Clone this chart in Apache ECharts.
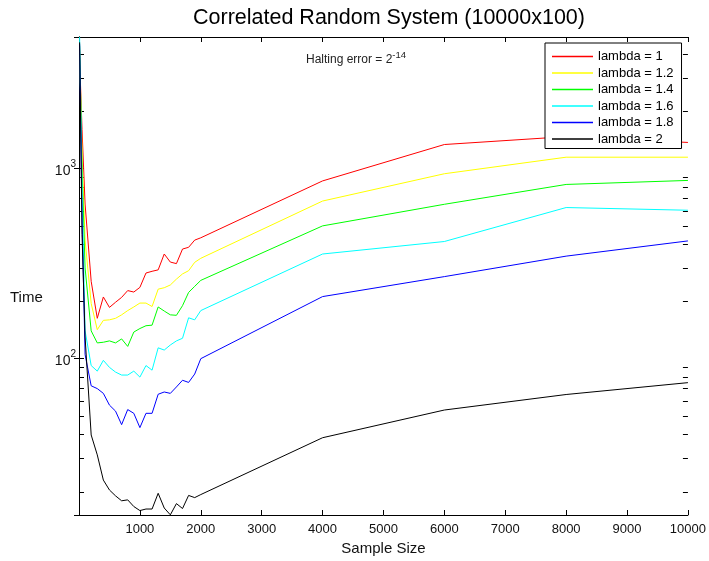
<!DOCTYPE html>
<html>
<head>
<meta charset="utf-8">
<title>Correlated Random System</title>
<script src="https://cdn.jsdelivr.net/npm/echarts@6/dist/echarts.min.js"></script>
<style>
  html, body { margin: 0; padding: 0; background: #fff; }
  #chart { width: 709px; height: 561px; }
</style>
</head>
<body>
<div id="chart"></div>
<script>
const sampleSize = [10, 50, 100, 200, 300, 400, 500, 600, 700, 800, 900, 1000,
  1100, 1200, 1300, 1400, 1500, 1600, 1700, 1800, 1900, 2000, 4000, 6000, 8000, 10000];

const lambda1 = [3800, 1600, 650, 255, 163, 211, 186, 198, 210, 228, 224, 237,
  282, 288, 293, 355, 322, 316, 377, 385, 420, 432, 860, 1336, 1470, 1370];
const lambda12 = [4200, 1200, 420, 195, 142, 159, 160, 163, 170, 179, 187, 196,
  196, 188, 232, 236, 244, 262, 279, 290, 321, 337, 674, 938, 1146, 1146];
const lambda14 = [4400, 1000, 300, 140, 121, 122, 124, 121, 127, 116, 138, 144,
  149, 150, 187, 178, 170, 169, 190, 223, 240, 258, 499, 648, 824, 865];
const lambda16 = [4910, 800, 140, 92, 86, 98, 90, 85, 82, 82, 86, 80,
  92, 87, 114, 111, 118, 124, 128, 164, 160, 179, 355, 413, 623, 603];
const lambda18 = [4500, 550, 105, 72, 69.6, 65.7, 57, 53, 45, 54, 51.6, 43.4,
  51.6, 51.6, 65, 66.8, 65.7, 71, 77, 75, 83, 100, 212, 270, 346, 416];
const lambda2 = [4600, 450, 130, 39.7, 31.2, 23, 20.4, 19, 17.9, 18.1, 16.7, 15.9,
  16.2, 16.2, 19.6, 16.4, 15.1, 17.3, 16.3, 19.1, 18.6, 19.3, 38.4, 53.7, 64.8, 74.8];

const seriesNames = ['lambda = 1', 'lambda = 1.2', 'lambda = 1.4', 'lambda = 1.6', 'lambda = 1.8', 'lambda = 2'];
const seriesColors = ['#ff0000', '#ffff00', '#00ff00', '#00ffff', '#0000ff', '#000000'];
const seriesValues = [lambda1, lambda12, lambda14, lambda16, lambda18, lambda2];

const xTicks = [0, 10000, 1000];          // min, max, interval
const yRange = [15.07, 4910];
const minorTickValues = [20, 30, 40, 50, 60, 70, 80, 90,
  200, 300, 400, 500, 600, 700, 800, 900, 2000, 3000, 4000];

const FONT = 'Liberation Sans';
const chart = echarts.init(document.getElementById('chart'));

const lineSeries = seriesNames.map((name, i) => ({
  name: name,
  type: 'line',
  symbol: 'none',
  data: sampleSize.map((x, j) => [x, seriesValues[i][j]]),
  lineStyle: { color: seriesColors[i], width: 1 },
  itemStyle: { color: seriesColors[i] },
  z: 3
}));

// log-axis minor ticks (2..9 per decade) on left and right edges
const minorTicks = {
  type: 'custom',
  silent: true,
  data: minorTickValues.map(v => [xTicks[0], v]),
  encode: { x: 0, y: 1 },
  renderItem: (params, api) => {
    const v = api.value(1);
    const l = api.coord([xTicks[0], v]);
    const r = api.coord([xTicks[1], v]);
    const y = Math.round(l[1]) + 0.5;
    return {
      type: 'group',
      children: [
        { type: 'line', shape: { x1: l[0], y1: y, x2: l[0] + 5, y2: y }, style: { stroke: '#000', lineWidth: 1 } },
        { type: 'line', shape: { x1: r[0] - 5, y1: y, x2: r[0], y2: y }, style: { stroke: '#000', lineWidth: 1 } }
      ]
    };
  },
  z: 2
};

const isPow10 = v => Math.abs(Math.log10(v) - Math.round(Math.log10(v))) < 1e-6;

const options = {
  animation: false,
  backgroundColor: '#fff',
  textStyle: { fontFamily: FONT },
  title: [
    {
      text: 'Correlated Random System (10000x100)',
      left: 389, top: 7, padding: 0, textAlign: 'center',
      textStyle: { fontSize: 21.5, fontWeight: 'normal', color: '#000', fontFamily: FONT }
    },
    {
      text: '{t|Halting error = 2}{s|-14}',
      left: 306, top: 50, padding: 0,
      textStyle: {
        fontFamily: FONT, fontWeight: 'normal',
        rich: {
          t: { fontSize: 12, fontWeight: 'normal', color: '#222', verticalAlign: 'bottom', lineHeight: 16, fontFamily: FONT },
          s: { fontSize: 9.5, fontWeight: 'normal', color: '#222', verticalAlign: 'top', lineHeight: 16, fontFamily: FONT }
        }
      }
    },
    {
      text: 'Time',
      left: 10, top: 290, padding: 0,
      textStyle: { fontSize: 15, fontWeight: 'normal', color: '#111', fontFamily: FONT }
    }
  ],
  legend: {
    orient: 'vertical',
    left: 545, top: 43,
    padding: [7, 8, 3, 7],
    itemWidth: 41, itemHeight: 14, itemGap: 3.5,
    icon: 'path://M0,0H41V1.4H0Z',
    symbolKeepAspect: true,
    borderColor: '#000', borderWidth: 1,
    backgroundColor: '#fff',
    data: seriesNames.map((name, i) => ({
      name: name,
      itemStyle: { color: seriesColors[i], borderWidth: 0, opacity: 1 }
    })),
    textStyle: { fontSize: 13, color: '#000', fontFamily: FONT }
  },
  grid: { left: 79, right: 20, top: 37, bottom: 44 },
  xAxis: [
    {
      type: 'value',
      min: xTicks[0], max: xTicks[1], interval: xTicks[2],
      name: 'Sample Size', nameLocation: 'middle', nameGap: 26,
      nameTextStyle: { fontSize: 15, color: '#111', fontFamily: FONT },
      axisLine: { show: true, lineStyle: { color: '#000', width: 1 } },
      axisTick: { show: true, inside: true, length: 5, lineStyle: { color: '#000' } },
      axisLabel: {
        fontSize: 13, color: '#111', margin: 8, fontFamily: FONT,
        formatter: v => (v === 0 ? '' : String(v))
      },
      splitLine: { show: false }
    },
    {
      type: 'value', position: 'top',
      min: xTicks[0], max: xTicks[1], interval: xTicks[2],
      axisLine: { show: true, lineStyle: { color: '#000', width: 1 } },
      axisTick: { show: true, inside: true, length: 5, lineStyle: { color: '#000' } },
      axisLabel: { show: false },
      splitLine: { show: false }
    }
  ],
  yAxis: [
    {
      type: 'log', logBase: 10,
      min: yRange[0], max: yRange[1],
      axisLine: { show: true, lineStyle: { color: '#000', width: 1 } },
      axisTick: { show: true, inside: true, length: 5, lineStyle: { color: '#000' } },
      axisLabel: {
        margin: 3, showMinLabel: false, showMaxLabel: false,
        formatter: v => (isPow10(v) ? '{b|10}{s|' + Math.round(Math.log10(v)) + '}' : ''),
        rich: {
          b: { fontSize: 14, color: '#111', verticalAlign: 'bottom', lineHeight: 19, fontFamily: FONT },
          s: { fontSize: 10, color: '#111', verticalAlign: 'top', lineHeight: 19, fontFamily: FONT }
        }
      },
      splitLine: { show: false }
    },
    {
      type: 'log', logBase: 10, position: 'right',
      min: yRange[0], max: yRange[1],
      axisLine: { show: true, lineStyle: { color: '#000', width: 1 } },
      axisTick: { show: true, inside: true, length: 5, lineStyle: { color: '#000' } },
      axisLabel: { show: false },
      splitLine: { show: false }
    }
  ],
  series: [...lineSeries, minorTicks]
};

chart.setOption(options);
</script>
</body>
</html>
